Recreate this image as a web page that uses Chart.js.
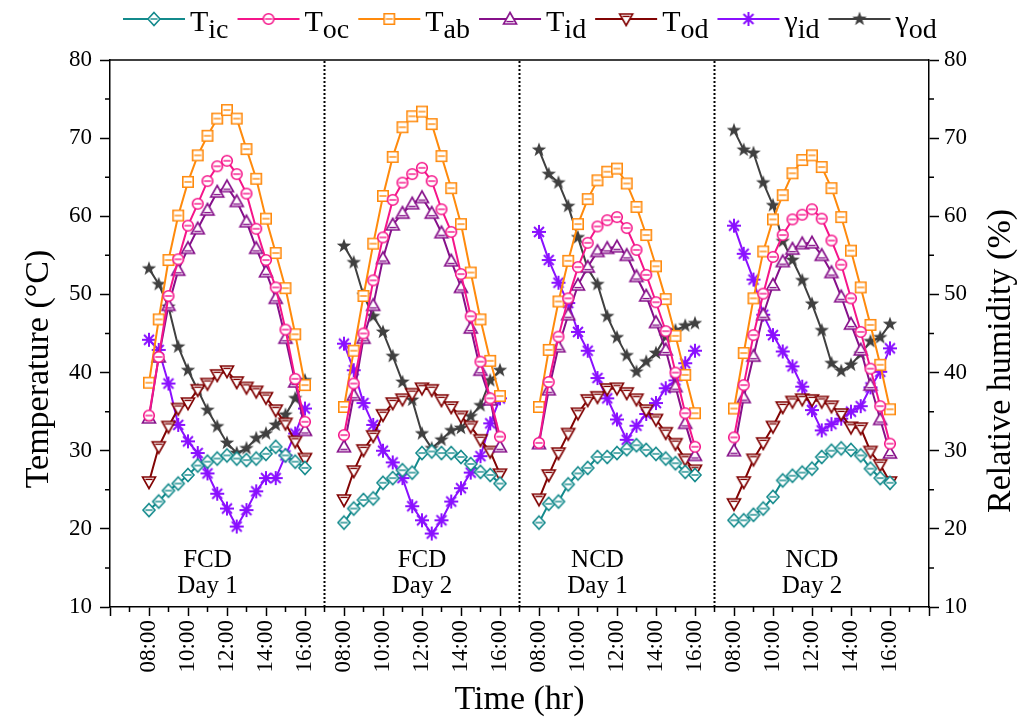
<!DOCTYPE html>
<html>
<head>
<meta charset="utf-8">
<title>Temperature and relative humidity</title>
<script src="https://cdn.jsdelivr.net/npm/chart.js@4.4.0/dist/chart.umd.min.js"></script>
<style>
  html, body { margin: 0; padding: 0; background: #fff; }
</style>
</head>
<body>
<canvas id="grafico" width="1019" height="727"></canvas>
<script>
const hourLabels = ['08:00', '10:00', '12:00', '14:00', '16:00']
const panelNames = ['FCD', 'FCD', 'NCD', 'NCD']
const panelDays = ['Day 1', 'Day 2', 'Day 1', 'Day 2']

// half-hourly readings from 08:00 to 16:00, one row per panel
const tIc = [
  [22.4, 23.5, 24.9, 25.8, 26.9, 28.1, 28.6, 29.0, 29.4, 29.0, 28.8, 29.0, 29.6, 30.5, 29.4, 28.6, 27.8],
  [20.8, 22.6, 23.7, 23.9, 25.9, 26.5, 27.5, 27.2, 29.7, 29.9, 29.7, 29.7, 29.2, 28.3, 27.3, 26.9, 25.8],
  [20.8, 23.2, 23.5, 25.7, 27.1, 27.8, 29.2, 29.2, 29.7, 30.2, 30.7, 30.1, 29.6, 29.0, 28.4, 27.3, 26.9],
  [21.1, 21.1, 21.8, 22.6, 24.1, 26.2, 26.8, 27.2, 27.7, 29.2, 30.0, 30.3, 30.1, 29.4, 27.7, 26.5, 25.9]
]
const tOc = [
  [34.5, 42.0, 49.8, 54.5, 58.8, 61.6, 64.5, 66.4, 67.1, 65.4, 62.9, 58.4, 54.4, 50.9, 45.5, 39.2, 33.7],
  [32.0, 38.6, 45.0, 51.8, 57.3, 62.1, 64.3, 65.4, 66.2, 64.5, 60.9, 58.0, 52.6, 47.2, 41.4, 36.7, 31.8],
  [31.0, 38.8, 44.6, 49.5, 53.5, 56.6, 58.7, 59.5, 59.9, 58.5, 55.7, 52.5, 49.0, 45.3, 40.0, 34.8, 30.5],
  [31.7, 38.4, 44.8, 50.1, 54.8, 57.6, 59.6, 60.2, 60.9, 59.7, 56.9, 53.8, 49.5, 45.2, 40.5, 35.7, 30.9]
]
const tAb = [
  [38.7, 46.8, 54.4, 60.1, 64.4, 67.8, 70.3, 72.5, 73.6, 72.5, 68.6, 64.8, 59.7, 55.3, 50.8, 44.9, 38.4],
  [35.6, 42.8, 49.8, 56.5, 62.6, 67.6, 71.4, 72.8, 73.4, 71.8, 67.7, 63.6, 59.0, 52.8, 46.8, 41.5, 37.0],
  [35.6, 42.9, 49.1, 54.3, 59.0, 62.2, 64.6, 65.7, 66.1, 64.2, 61.2, 57.6, 53.6, 49.4, 44.7, 39.7, 34.8],
  [35.4, 42.5, 49.5, 55.5, 59.6, 62.7, 65.5, 67.2, 67.8, 66.3, 63.6, 59.9, 55.6, 50.9, 46.1, 41.0, 35.3]
]
const tId = [
  [34.2, 42.0, 48.6, 53.1, 55.9, 58.4, 60.8, 63.1, 63.8, 61.9, 59.3, 55.9, 52.9, 49.5, 44.4, 38.8, 32.6],
  [30.5, 37.1, 44.4, 48.6, 54.6, 58.9, 60.4, 61.6, 62.4, 60.4, 57.9, 54.3, 50.9, 45.7, 40.3, 36.5, 30.5],
  [30.9, 37.8, 43.3, 47.4, 51.2, 53.5, 55.5, 55.9, 56.1, 55.0, 52.3, 49.8, 46.4, 42.9, 38.2, 33.5, 29.4],
  [30.0, 36.8, 42.1, 47.4, 51.2, 54.2, 55.8, 56.5, 56.6, 55.0, 52.8, 49.7, 46.2, 42.9, 38.4, 34.0, 29.7]
]
const tOd = [
  [26.0, 30.5, 33.1, 35.4, 36.1, 37.8, 38.6, 39.7, 40.2, 38.8, 38.1, 37.6, 36.8, 35.2, 33.5, 31.2, 29.0],
  [23.7, 27.4, 30.1, 31.9, 34.6, 36.1, 36.6, 37.3, 38.0, 37.8, 36.5, 35.6, 34.4, 33.1, 31.4, 29.9, 27.0],
  [23.8, 26.9, 29.7, 32.2, 34.8, 36.5, 36.9, 37.9, 38.0, 37.4, 36.6, 35.2, 34.0, 32.3, 30.9, 28.9, 27.5],
  [23.2, 26.0, 28.9, 31.0, 33.1, 35.6, 36.3, 36.6, 36.5, 36.3, 35.7, 34.7, 33.0, 32.9, 29.9, 28.2, 26.0]
]
const rhId = [
  [44.2, 42.9, 38.6, 33.3, 31.2, 29.7, 27.1, 24.5, 22.6, 20.3, 22.4, 24.8, 26.5, 26.5, 29.4, 32.2, 35.4],
  [43.7, 40.3, 36.1, 33.3, 30.0, 28.5, 26.5, 22.9, 21.1, 19.4, 21.1, 23.5, 25.2, 27.2, 29.3, 33.5, 36.7],
  [58.0, 54.4, 51.5, 48.9, 45.2, 42.8, 39.3, 36.7, 34.0, 31.4, 33.2, 34.7, 36.1, 38.0, 39.0, 41.2, 42.8],
  [58.8, 55.2, 51.9, 47.4, 44.8, 42.7, 40.8, 38.2, 35.2, 32.6, 33.4, 34.1, 35.0, 35.7, 38.1, 40.1, 43.1]
]
const rhOd = [
  [53.3, 51.3, 48.4, 43.3, 40.3, 37.8, 35.2, 33.1, 31.0, 29.7, 30.3, 31.6, 32.2, 33.3, 34.6, 36.7, 39.0],
  [56.2, 54.1, 49.9, 47.2, 45.2, 42.1, 38.8, 36.5, 32.2, 30.3, 31.4, 32.6, 32.9, 34.4, 35.8, 39.0, 40.3],
  [68.5, 65.4, 64.3, 61.3, 57.3, 53.3, 51.3, 47.2, 44.5, 42.2, 40.1, 41.4, 42.5, 44.6, 45.4, 46.0, 46.3],
  [71.0, 68.5, 68.1, 64.3, 61.4, 56.8, 54.4, 51.8, 48.8, 45.4, 41.2, 40.2, 41.0, 42.4, 44.0, 44.5, 46.2]
]

const serif = "'Liberation Serif', 'Times New Roman', serif"
Chart.defaults.font.family = serif
Chart.defaults.color = '#000'

const series = [
  { main: 'T', sub: 'ic', values: tIc, color: '#138a8c', marker: 'diamond', axis: 'y' },
  { main: 'T', sub: 'oc', values: tOc, color: '#f5158a', marker: 'circle', axis: 'y' },
  { main: 'T', sub: 'ab', values: tAb, color: '#ff8a0c', marker: 'square', axis: 'y' },
  { main: 'T', sub: 'id', values: tId, color: '#86108a', marker: 'triangle', axis: 'y' },
  { main: 'T', sub: 'od', values: tOd, color: '#820404', marker: 'down', axis: 'y' },
  { main: 'γ', sub: 'id', values: rhId, color: '#8a10ff', marker: 'asterisk', axis: 'y2' },
  { main: 'γ', sub: 'od', values: rhOd, color: '#404040', marker: 'star', axis: 'y2' }
]

// each panel takes 20 half-hour slots on the x scale, the first reading sits at slot 4
const panelSlots = 20
const firstSlot = 4

function markerImage(shape, color) {
  const c = document.createElement('canvas')
  c.width = 18
  c.height = 18
  const g = c.getContext('2d')
  const m = 9
  g.strokeStyle = color
  g.fillStyle = '#fff'
  g.lineWidth = 1.6
  g.beginPath()
  if (shape === 'diamond') {
    g.moveTo(m, m - 6.5); g.lineTo(m + 6, m); g.lineTo(m, m + 6.5); g.lineTo(m - 6, m); g.closePath()
  } else if (shape === 'circle') {
    g.arc(m, m, 5.3, 0, Math.PI * 2)
  } else if (shape === 'square') {
    g.rect(m - 5.2, m - 5.2, 10.4, 10.4)
  } else if (shape === 'triangle') {
    g.moveTo(m, m - 6.5); g.lineTo(m + 6.5, m + 5); g.lineTo(m - 6.5, m + 5); g.closePath()
  } else if (shape === 'down') {
    g.moveTo(m - 6.5, m - 5); g.lineTo(m + 6.5, m - 5); g.lineTo(m, m + 6.5); g.closePath()
  }

  if (shape === 'asterisk') {
    g.lineWidth = 2
    for (let k = 0; k < 4; k++) {
      const t = k * Math.PI / 4
      g.moveTo(m - 7 * Math.cos(t), m - 7 * Math.sin(t))
      g.lineTo(m + 7 * Math.cos(t), m + 7 * Math.sin(t))
    }
    g.stroke()
  } else if (shape === 'star') {
    for (let k = 0; k < 10; k++) {
      const r = k % 2 ? 3.1 : 7.6
      const t = -Math.PI / 2 + k * Math.PI / 5
      g.lineTo(m + r * Math.cos(t), m + r * Math.sin(t))
    }
    g.closePath()
    g.fillStyle = color
    g.fill()
  } else {
    g.fill()
    g.stroke()
    // the little bar inside the hollow symbols
    let by = m
    if (shape === 'triangle') by = m + 2.6
    if (shape === 'down') by = m - 2.6
    g.beginPath()
    g.lineWidth = 1.4
    g.moveTo(m - 3.6, by)
    g.lineTo(m + 3.6, by)
    g.stroke()
  }
  return c
}

function toPoints(rows) {
  const pts = []
  rows.forEach((row, p) => {
    row.forEach((v, i) => pts.push({ x: p * panelSlots + firstSlot + i, y: v }))
    // null point so the line does not run across the panel divider
    if (p < rows.length - 1) pts.push({ x: (p + 1) * panelSlots + 2, y: null })
  })
  return pts
}

series.forEach(s => { s.image = markerImage(s.marker, s.color) })

const datasets = series.map(s => ({
  label: s.main + s.sub,
  data: toPoints(s.values),
  borderColor: s.color,
  backgroundColor: s.color,
  borderWidth: 2,
  pointStyle: s.image,
  pointRadius: 6,
  pointHoverRadius: 6,
  yAxisID: s.axis
}))

// dotted dividers between the four runs
const dividerAt = [22, 42, 62]
dividerAt.forEach(x => {
  datasets.push({
    label: 'divider',
    data: [{ x: x, y: 10 }, { x: x, y: 80 }],
    borderColor: '#000',
    borderWidth: 2,
    borderDash: [2, 2],
    pointRadius: 0,
    yAxisID: 'y'
  })
})

const decorations = {
  id: 'decorations',
  afterDraw(chart) {
    const { ctx, chartArea: a, scales } = chart
    const x = scales.x
    const y = scales.y
    ctx.save()
    ctx.strokeStyle = '#000'
    ctx.lineWidth = 1.5

    // top edge of the frame
    ctx.beginPath()
    ctx.moveTo(a.left, a.top)
    ctx.lineTo(a.right, a.top)
    ctx.stroke()

    // minor ticks
    ctx.beginPath()
    for (let v = 2; v < 84; v += 4) {
      const px = x.getPixelForValue(v)
      ctx.moveTo(px, a.bottom)
      ctx.lineTo(px, a.bottom + 5)
    }
    for (let v = 15; v < 80; v += 10) {
      const py = y.getPixelForValue(v)
      ctx.moveTo(a.left - 5, py)
      ctx.lineTo(a.left, py)
      ctx.moveTo(a.right, py)
      ctx.lineTo(a.right + 5, py)
    }
    ctx.stroke()

    // run names inside each panel
    const labelSpots = [10, 32, 50, 72]
    ctx.fillStyle = '#000'
    ctx.textAlign = 'center'
    ctx.textBaseline = 'middle'
    ctx.font = '25px ' + serif
    panelNames.forEach((name, p) => {
      const px = x.getPixelForValue(labelSpots[p])
      ctx.fillText(name, px, a.bottom - 47)
      ctx.fillText(panelDays[p], px, a.bottom - 21)
    })

    // axis titles, both read bottom to top
    ctx.font = '34px ' + serif
    ctx.save()
    ctx.translate(39, 369)
    ctx.rotate(-Math.PI / 2)
    ctx.fillText('Temperature (°C)', 0, 0)
    ctx.restore()
    ctx.save()
    ctx.translate(1001, 361)
    ctx.rotate(-Math.PI / 2)
    ctx.fillText('Relative humidity (%)', 0, 0)
    ctx.restore()

    // legend row
    let lx = 123
    const ly = 19
    ctx.textAlign = 'left'
    ctx.textBaseline = 'alphabetic'
    series.forEach(s => {
      ctx.strokeStyle = s.color
      ctx.lineWidth = 2
      ctx.beginPath()
      ctx.moveTo(lx, ly)
      ctx.lineTo(lx + 62, ly)
      ctx.stroke()
      ctx.drawImage(s.image, lx + 31 - s.image.width / 2, ly - s.image.height / 2)
      lx += 67
      ctx.fillStyle = '#000'
      ctx.font = '30px ' + serif
      ctx.fillText(s.main, lx, 31)
      lx += ctx.measureText(s.main).width
      ctx.font = '28px ' + serif
      ctx.fillText(s.sub, lx, 38)
      lx += ctx.measureText(s.sub).width + 9
    })
    ctx.restore()
  }
}

const canvas = document.getElementById('grafico')
const chart = new Chart(canvas, {
  type: 'line',
  data: { datasets: datasets },
  options: {
    responsive: false,
    animation: false,
    devicePixelRatio: 1,
    layout: { padding: { top: 60, left: 0, right: 0, bottom: 0 } },
    plugins: {
      legend: { display: false },
      tooltip: { enabled: false }
    },
    scales: {
      x: {
        type: 'linear',
        min: 0,
        max: 84,
        afterFit: s => { s.height = 120 },
        ticks: {
          stepSize: 4,
          autoSkip: false,
          minRotation: 90,
          maxRotation: 90,
          padding: 4,
          font: { size: 23 },
          callback: v => (v >= firstSlot && v <= 80) ? hourLabels[((v - firstSlot) % panelSlots) / 4] : ''
        },
        grid: { drawOnChartArea: false, tickLength: 9, tickColor: '#000', tickWidth: 1.5 },
        border: { color: '#000', width: 1.5 },
        title: { display: true, text: 'Time (hr)', font: { size: 34 }, padding: { top: 0, bottom: 7 } }
      },
      y: {
        position: 'left',
        min: 10,
        max: 80,
        afterFit: s => { s.width = 110 },
        ticks: { stepSize: 10, padding: 8, font: { size: 23 } },
        grid: { drawOnChartArea: false, tickLength: 10, tickColor: '#000', tickWidth: 1.5 },
        border: { color: '#000', width: 1.5 }
      },
      y2: {
        position: 'right',
        min: 10,
        max: 80,
        afterFit: s => { s.width = 90 },
        ticks: { stepSize: 10, padding: 5, font: { size: 23 } },
        grid: { drawOnChartArea: false, tickLength: 10, tickColor: '#000', tickWidth: 1.5 },
        border: { color: '#000', width: 1.5 }
      }
    }
  },
  plugins: [decorations]
})
</script>
</body>
</html>
